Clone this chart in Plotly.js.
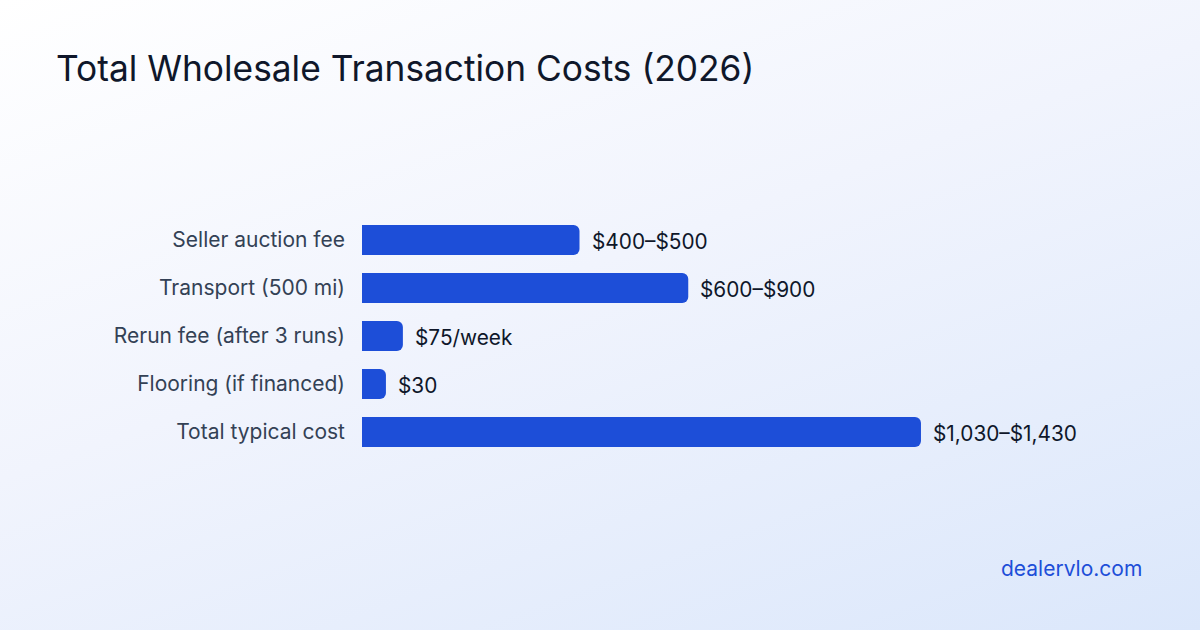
<!DOCTYPE html>
<html>
<head>
<meta charset="utf-8">
<script src="https://cdn.plot.ly/plotly-3.0.1.min.js"></script>
<style>
  html, body { margin: 0; padding: 0; }
  body {
    width: 1200px; height: 630px; overflow: hidden;
    background: linear-gradient(160deg, #ffffff 0%, #f1f4fd 45%, #dbe7fb 100%);
  }
  #chart { width: 1200px; height: 630px; }
</style>
</head>
<body>
<div id="chart"></div>
<script>
const categories = [
  "Seller auction fee",
  "Transport (500 mi)",
  "Rerun fee (after 3 runs)",
  "Flooring (if financed)",
  "Total typical cost"
];
const values = [500, 750, 94, 55, 1285];
const valueLabels = ["$400–$500", "$600–$900", "$75/week", "$30", "$1,030–$1,430"];
const chartTitle = "Total Wholesale Transaction Costs (2026)";
const sourceText = "dealervlo.com";

const FONT = "Inter, 'Noto Sans', sans-serif";

const trace = {
  type: "bar",
  orientation: "h",
  y: categories,
  x: values,
  marker: { color: "#1d4ed8", cornerradius: 6 },
  hoverinfo: "skip"
};

const annotations = categories.map((c, i) => ({
  x: values[i], y: c, xref: "x", yref: "y",
  text: valueLabels[i], showarrow: false,
  xanchor: "left", yanchor: "middle", xshift: 10, yshift: -1,
  font: { family: FONT, size: 20.8, color: "#0f172a" }
}));
annotations.push({
  xref: "paper", yref: "paper", x: 1.1236, y: -0.467,
  xanchor: "right", yanchor: "middle",
  text: sourceText, showarrow: false,
  font: { family: FONT, size: 21, color: "#1d4ed8" }
});

const layout = {
  width: 1200, height: 630,
  paper_bgcolor: "rgba(0,0,0,0)",
  plot_bgcolor: "rgba(0,0,0,0)",
  margin: { l: 362, r: 142, t: 216, b: 174, pad: 0 },
  title: {
    text: chartTitle,
    xref: "container", yref: "container",
    x: 56 / 1200, xanchor: "left",
    y: 1 - 69 / 630, yanchor: "middle",
    font: { family: FONT, size: 35.3, color: "#0f172a" }
  },
  xaxis: {
    range: [0, 1600], visible: false, fixedrange: true
  },
  yaxis: {
    autorange: "reversed", showgrid: false, zeroline: false, showline: false,
    ticks: "", ticklabelstandoff: 16,
    tickfont: { family: FONT, size: 21, color: "#334155" },
    fixedrange: true
  },
  bargap: 0.375,
  showlegend: false,
  annotations: annotations,
  font: { family: FONT }
};

Plotly.newPlot("chart", [trace], layout, { displayModeBar: false, staticPlot: true });
</script>
</body>
</html>
